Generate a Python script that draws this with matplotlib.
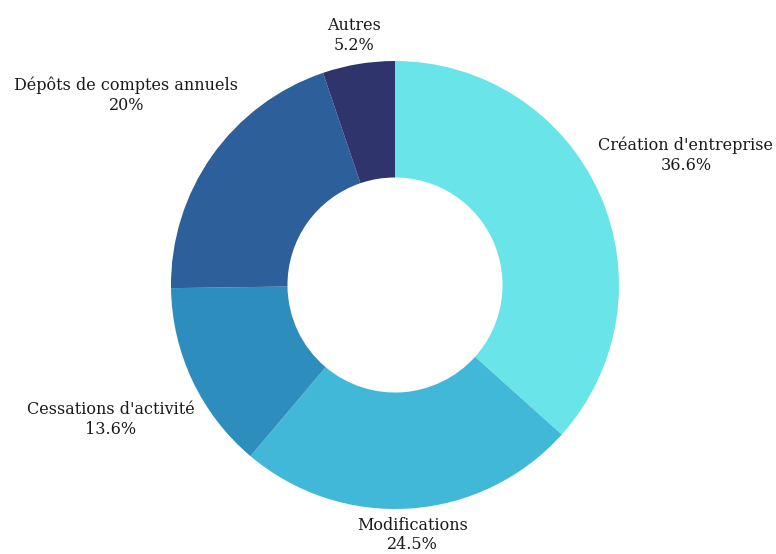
import numpy as np
import matplotlib
matplotlib.use("Agg")
import matplotlib.pyplot as plt

categories = ["Création d'entreprise", "Modifications", "Cessations d'activité",
              "Dépôts de comptes annuels", "Autres"]
values = [36.6, 24.5, 13.6, 20, 5.2]
value_labels = ["36.6%", "24.5%", "13.6%", "20%", "5.2%"]
colors = ["#69E4E8", "#42B8D8", "#2D8DBD", "#2D5F9A", "#2F346D"]

W, H, DPI = 776, 554, 100
fig = plt.figure(figsize=(W / DPI, H / DPI), dpi=DPI)
cx, cy, R = 395, 285, 224  # pixels
ax = fig.add_axes([(cx - R) / W, (H - cy - R) / H, 2 * R / W, 2 * R / H])
ax.pie(values, colors=colors, startangle=90, counterclock=False, radius=1.0,
       wedgeprops=dict(width=0.52, edgecolor="none"))
ax.set_xlim(-1, 1)
ax.set_ylim(-1, 1)
ax.set_aspect("equal")
ax.axis("off")

font = dict(family="DejaVu Serif", size=11.5, color="#1a1a1a")
fig.canvas.draw()
renderer = fig.canvas.get_renderer()
total = sum(values)
cum = 0.0
r0 = 1.035
for cat, v, vl in zip(categories, values, value_labels):
    mid = np.deg2rad(90 - (cum + v / 2) / total * 360)
    cum += v
    ux, uy = np.cos(mid), np.sin(mid)
    t = ax.text(0, 0, f"{cat}\n{vl}", ha="center", va="center",
                multialignment="center", linespacing=1.2, clip_on=False, **font)
    bb = t.get_window_extent(renderer)
    hw = bb.width / 2 / R
    hh = bb.height / 2 / R
    lo, hi = 0.0, 4.0
    for _ in range(60):
        m = (lo + hi) / 2
        px, py = m * ux, m * uy
        d = np.hypot(max(0, abs(px) - hw), max(0, abs(py) - hh))
        if d < r0:
            lo = m
        else:
            hi = m
    t.set_position((lo * ux, lo * uy))

fig.savefig("out.png", dpi=DPI)
